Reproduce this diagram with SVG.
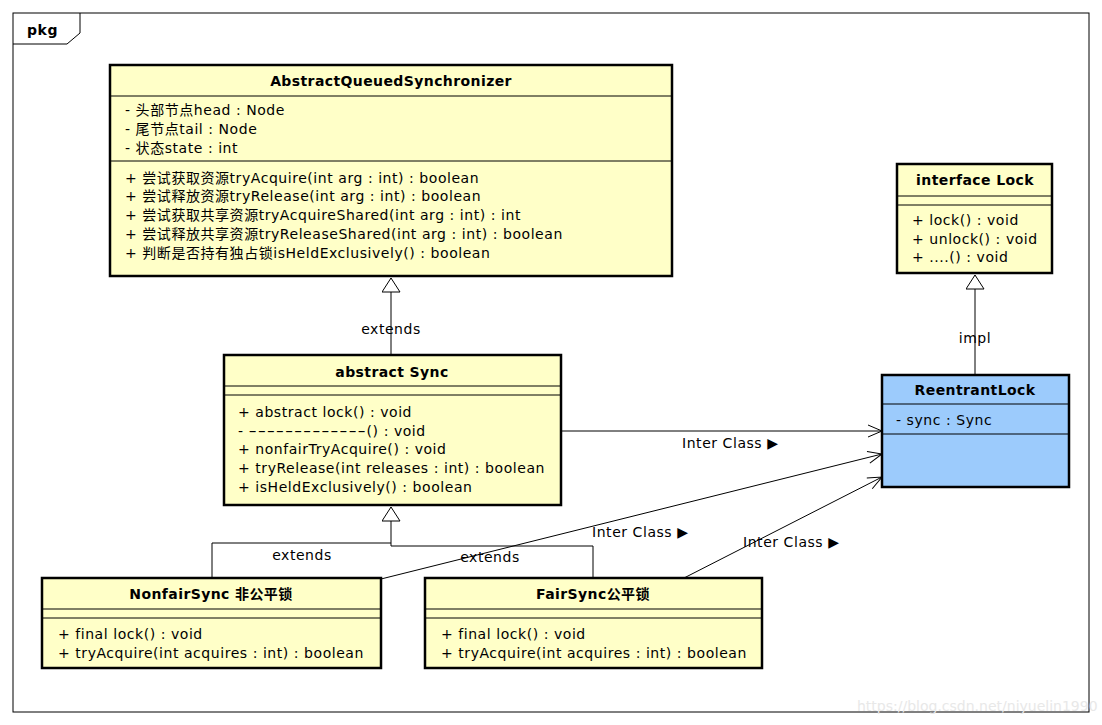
<svg xmlns="http://www.w3.org/2000/svg" width="1102" height="725" viewBox="0 0 1102 725">
<defs>
<style>
.box{fill:#ffffc8;stroke:#000;stroke-width:2.5}
.blue{fill:#9ccbfc;stroke:#000;stroke-width:2.5}
.sep{stroke:#000;stroke-width:1}
.t{font-family:"DejaVu Sans","Noto Sans CJK SC",sans-serif;font-size:14px;letter-spacing:0.55px;fill:#000}
.b{font-weight:bold;text-anchor:middle;letter-spacing:0.4px}
.c{text-anchor:middle}
.ln{fill:none;stroke:#000;stroke-width:1}
.wm{font-family:"DejaVu Sans",sans-serif;font-size:14px;fill:#e8e8e8}
</style>
<marker id="tri" markerWidth="20" markerHeight="20" refX="15" refY="9" orient="auto" markerUnits="userSpaceOnUse">
<path d="M15,9 L1,0 L1,18 Z" fill="#fff" stroke="#000" stroke-width="1"/>
</marker>
<marker id="open" markerWidth="16" markerHeight="16" refX="15" refY="8" orient="auto" markerUnits="userSpaceOnUse">
<path d="M1,2 L15,8 L1,14" fill="none" stroke="#000" stroke-width="1"/>
</marker>
</defs>
<rect x="0" y="0" width="1102" height="725" fill="#fff"/>
<g id="frame">
<rect x="13" y="13" width="1076" height="699" fill="none" stroke="#000" stroke-width="1"/>
<path d="M13,44 L67,44 L80,33 L80,13" fill="none" stroke="#000" stroke-width="1"/>
<text x="27" y="35" class="t" style="font-weight:bold">pkg</text>
</g>
<g id="connectors">
<path class="ln" d="M391,355 L391,278" marker-end="url(#tri)"/>
<text x="391" y="334" class="t c">extends</text>
<path class="ln" d="M975,375 L975,275" marker-end="url(#tri)"/>
<text x="975" y="343" class="t c">impl</text>
<path class="ln" d="M212,578 L212,543 L391,543"/>
<path class="ln" d="M593,578 L593,546 L391,546 L391,507" marker-end="url(#tri)"/>
<text x="302" y="560" class="t c">extends</text>
<text x="490" y="562" class="t c">extends</text>
<path class="ln" d="M561,431 L882,431" marker-end="url(#open)"/>
<text x="682" y="448" class="t">Inter Class ▶</text>
<path class="ln" d="M381,579 L882,454" marker-end="url(#open)"/>
<text x="592" y="537" class="t">Inter Class ▶</text>
<path class="ln" d="M684,578 L882,477" marker-end="url(#open)"/>
<text x="743" y="547" class="t">Inter Class ▶</text>
</g>
<g id="aqs">
<rect x="110" y="65" width="562" height="211" class="box"/>
<line x1="110" y1="96" x2="672" y2="96" class="sep"/>
<line x1="110" y1="161" x2="672" y2="161" class="sep"/>
<text x="391" y="86" class="t b">AbstractQueuedSynchronizer</text>
<text x="125" y="115" class="t">- 头部节点head : Node</text>
<text x="125" y="134" class="t">- 尾节点tail : Node</text>
<text x="125" y="153" class="t">- 状态state : int</text>
<text x="125" y="183" class="t">+ 尝试获取资源tryAcquire(int arg : int) : boolean</text>
<text x="125" y="201" class="t">+ 尝试释放资源tryRelease(int arg : int) : boolean</text>
<text x="125" y="220" class="t">+ 尝试获取共享资源tryAcquireShared(int arg : int) : int</text>
<text x="125" y="239" class="t">+ 尝试释放共享资源tryReleaseShared(int arg : int) : boolean</text>
<text x="125" y="258" class="t">+ 判断是否持有独占锁isHeldExclusively() : boolean</text>
</g>
<g id="lock">
<rect x="897" y="164" width="155" height="109" class="box"/>
<line x1="897" y1="196" x2="1052" y2="196" class="sep"/>
<line x1="897" y1="205" x2="1052" y2="205" class="sep"/>
<text x="975" y="185" class="t b">interface Lock</text>
<text x="912" y="225" class="t">+ lock() : void</text>
<text x="912" y="244" class="t">+ unlock() : void</text>
<text x="912" y="262" class="t">+ ....() : void</text>
</g>
<g id="sync">
<rect x="224" y="355" width="337" height="150" class="box"/>
<line x1="224" y1="386" x2="561" y2="386" class="sep"/>
<line x1="224" y1="395" x2="561" y2="395" class="sep"/>
<text x="392" y="377" class="t b">abstract Sync</text>
<text x="238" y="417" class="t">+ abstract lock() : void</text>
<text x="238" y="436" class="t">- <tspan textLength="118" lengthAdjust="spacingAndGlyphs">-------------</tspan>() : void</text>
<text x="238" y="454" class="t">+ nonfairTryAcquire() : void</text>
<text x="238" y="473" class="t">+ tryRelease(int releases : int) : boolean</text>
<text x="238" y="492" class="t">+ isHeldExclusively() : boolean</text>
</g>
<g id="reentrant">
<rect x="882" y="375" width="187" height="112" class="blue"/>
<line x1="882" y1="404" x2="1069" y2="404" class="sep"/>
<line x1="882" y1="434" x2="1069" y2="434" class="sep"/>
<text x="975" y="395" class="t b">ReentrantLock</text>
<text x="896" y="425" class="t">- sync : Sync</text>
</g>
<g id="nonfair">
<rect x="42" y="578" width="339" height="90" class="box"/>
<line x1="42" y1="609" x2="381" y2="609" class="sep"/>
<line x1="42" y1="618" x2="381" y2="618" class="sep"/>
<text x="211" y="599" class="t b">NonfairSync 非公平锁</text>
<text x="58" y="639" class="t">+ final lock() : void</text>
<text x="58" y="658" class="t">+ tryAcquire(int acquires : int) : boolean</text>
</g>
<g id="fair">
<rect x="425" y="578" width="337" height="90" class="box"/>
<line x1="425" y1="609" x2="762" y2="609" class="sep"/>
<line x1="425" y1="618" x2="762" y2="618" class="sep"/>
<text x="593" y="599" class="t b">FairSync公平锁</text>
<text x="441" y="639" class="t">+ final lock() : void</text>
<text x="441" y="658" class="t">+ tryAcquire(int acquires : int) : boolean</text>
</g>
<text x="857" y="711" class="wm">https://blog.csdn.net/niyuelin1990</text>
</svg>
